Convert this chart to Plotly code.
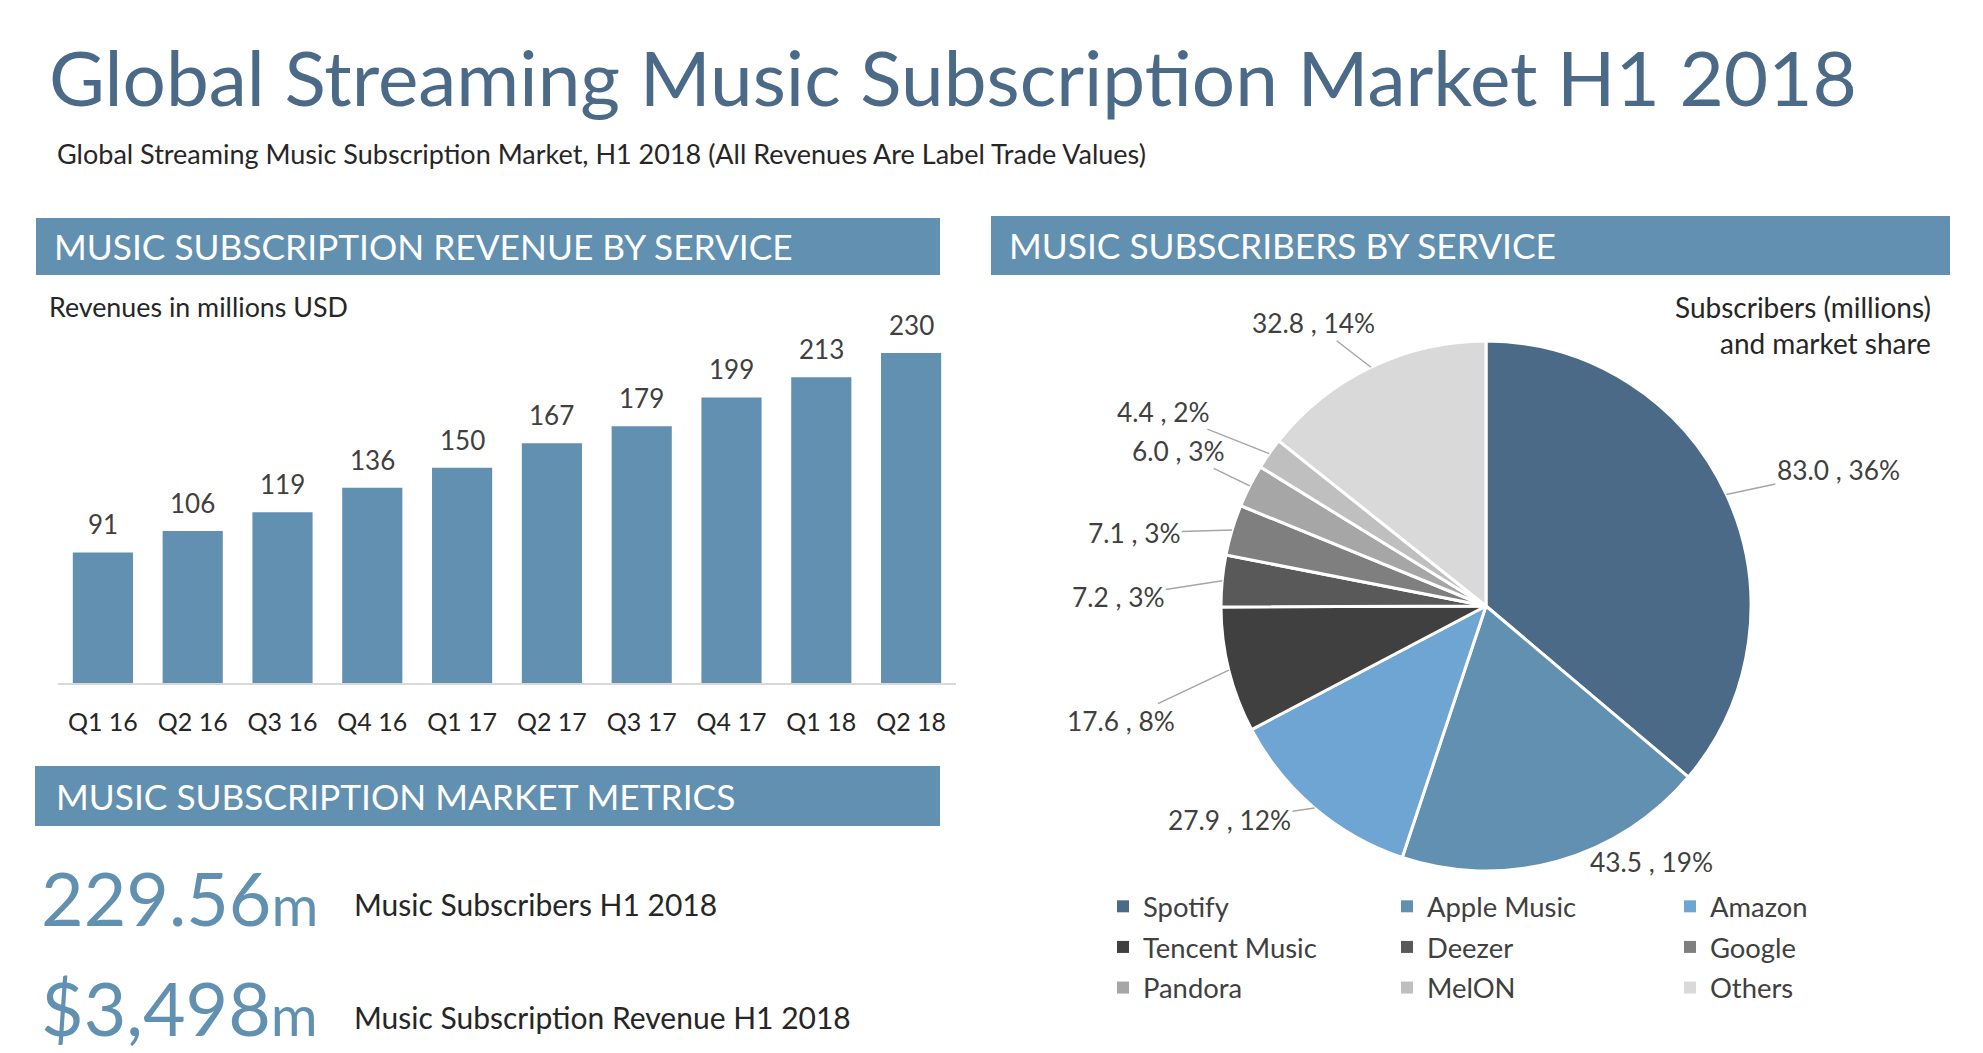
import math
import plotly.graph_objects as go

W, H = 1983, 1053

# ---------------- data ----------------
quarters = ["Q1 16", "Q2 16", "Q3 16", "Q4 16", "Q1 17", "Q2 17", "Q3 17", "Q4 17", "Q1 18", "Q2 18"]
revenue = [91, 106, 119, 136, 150, 167, 179, 199, 213, 230]

services = ["Spotify", "Apple Music", "Amazon", "Tencent Music", "Deezer",
            "Google", "Pandora", "MelON", "Others"]
subscribers = [83.0, 43.5, 27.9, 17.6, 7.2, 7.1, 6.0, 4.4, 32.8]

metric_values = ["229.56", "$3,498"]
metric_units = ["m", "m"]
metric_labels = ["Music Subscribers H1 2018", "Music Subscription Revenue H1 2018"]

title_text = "Global Streaming Music Subscription Market H1 2018"
subtitle_text = "Global Streaming Music Subscription Market, H1 2018 (All Revenues Are Label Trade Values)"
header_texts = ["MUSIC SUBSCRIPTION REVENUE BY SERVICE", "MUSIC SUBSCRIBERS BY SERVICE",
                "MUSIC SUBSCRIPTION MARKET METRICS"]

# ---------------- style ----------------
FONT = "Lato"
DARK = "#404040"
TEXT = "#262626"
TITLE_BLUE = "#4a6a88"
HEADER_BLUE = "#6290b0"
BAR_BLUE = "#6290b0"
slice_colors = ["#4a6a88", "#6290b0", "#6fa5d3", "#404040", "#595959",
                "#7f7f7f", "#a6a6a6", "#bfbfbf", "#d9d9d9"]
# pixel offsets (label centre relative to slice edge point)
label_offsets = [(112, -24), (94, 1), (-85, 12), (-108, 51), (-104, 16),
                 (-98, 3), (-72, -35), (-106, -42), (-57, -44)]
label_leader = [True, False, True, True, True, True, True, True, True]


def px(x):
    return x / W


def py(y):
    return 1 - y / H


# bar chart geometry (pixels)
BAR_LEFT, BAR_RIGHT = 58, 956
BAR_BASE = 683
Y_MAX = 250
PX_PER_UNIT = 1.435
BAR_TOP = BAR_BASE - Y_MAX * PX_PER_UNIT

# pie geometry
CX, CY, R = 1486, 606, 265

fig = go.Figure()

fig.add_trace(go.Bar(
    x=quarters, y=revenue, marker=dict(color=BAR_BLUE, line=dict(width=0)),
    hoverinfo="x+y", showlegend=False,
))

fig.add_trace(go.Pie(
    labels=services, values=subscribers, sort=False, direction="clockwise", rotation=0,
    marker=dict(colors=slice_colors, line=dict(color="white", width=3)),
    textinfo="none", showlegend=False,
    domain=dict(x=[px(CX - R), px(CX + R)], y=[py(CY + R), py(CY - R)]),
))

# legend entries (three columns)
legend_names = ["legend", "legend2", "legend3"]
for i, (s, c) in enumerate(zip(services, slice_colors)):
    fig.add_trace(go.Scatter(
        x=[None], y=[None], mode="markers",
        marker=dict(symbol="square", size=12, color=c),
        name=s, legend=legend_names[i % 3], legendgroup=s, showlegend=True,
        hoverinfo="skip",
    ))

legend_common = dict(
    orientation="v", font=dict(family=FONT, size=27.4, color=DARK),
    bgcolor="rgba(0,0,0,0)", borderwidth=0, tracegroupgap=2,
    xanchor="left", yanchor="top", itemclick=False, itemdoubleclick=False,
)
legend_x = [1103, 1387, 1670]
LEG_TOP = 882

annotations = []
shapes = []

# title / subtitle
annotations.append(dict(text=title_text, x=px(47), y=py(76), xref="paper", yref="paper",
                        xanchor="left", yanchor="middle", showarrow=False,
                        font=dict(family=FONT, size=76.5, color=TITLE_BLUE)))
annotations.append(dict(text=subtitle_text, x=px(55), y=py(154), xref="paper", yref="paper",
                        xanchor="left", yanchor="middle", showarrow=False,
                        font=dict(family=FONT, size=27, color=TEXT)))

# header bars
header_boxes = [(36, 218, 940, 275), (991, 216, 1950, 275), (35, 766, 940, 826)]
header_text_x = [52, 1007, 54]
for (x0, y0, x1, y1), t, tx in zip(header_boxes, header_texts, header_text_x):
    shapes.append(dict(type="rect", xref="paper", yref="paper",
                       x0=px(x0), x1=px(x1), y0=py(y1), y1=py(y0),
                       fillcolor=HEADER_BLUE, line=dict(width=0), layer="below"))
    annotations.append(dict(text=t, x=px(tx), y=py((y0 + y1) / 2), xref="paper", yref="paper",
                            xanchor="left", yanchor="middle", showarrow=False,
                            font=dict(family=FONT, size=35.3, color="white")))

# bar chart label
annotations.append(dict(text="Revenues in millions USD", x=px(47), y=py(307), xref="paper",
                        yref="paper", xanchor="left", yanchor="middle", showarrow=False,
                        font=dict(family=FONT, size=26.8, color=TEXT)))

# bar value labels
for q, v in zip(quarters, revenue):
    annotations.append(dict(text=str(v), x=q, y=v, xref="x", yref="y", xanchor="center",
                            yanchor="bottom", yshift=10, showarrow=False,
                            font=dict(family=FONT, size=26, color=DARK)))

# pie labels with leader lines
total = sum(subscribers)
cum = 0.0
for i, v in enumerate(subscribers):
    mid = (cum + v / 2) / total * 2 * math.pi
    cum += v
    tx = CX + R * math.sin(mid)
    ty = CY - R * math.cos(mid)
    pct = round(v / total * 100)
    lbl = f"{v:.1f} , {pct}%"
    ox, oy = label_offsets[i]
    if label_leader[i]:
        annotations.append(dict(text=lbl, x=px(tx), y=py(ty), xref="paper", yref="paper",
                                ax=ox, ay=oy, axref="pixel", ayref="pixel", showarrow=True,
                                arrowhead=0, arrowwidth=1.5, arrowcolor="#a6a6a6", standoff=0,
                                font=dict(family=FONT, size=26.3, color=DARK)))
    else:
        annotations.append(dict(text=lbl, x=px(tx + ox), y=py(ty + oy), xref="paper",
                                yref="paper", xanchor="center", yanchor="middle",
                                showarrow=False,
                                font=dict(family=FONT, size=26.3, color=DARK)))

annotations.append(dict(text="Subscribers (millions)<br>and market share", x=px(1933),
                        y=py(325), xref="paper", yref="paper", xanchor="right",
                        yanchor="middle", align="right", showarrow=False,
                        font=dict(family=FONT, size=28, color=TEXT)))

# metrics
metric_y = [897, 1007]
metric_label_y = [904, 1017]
for val, unit, lab, my, ly in zip(metric_values, metric_units, metric_labels, metric_y,
                                  metric_label_y):
    annotations.append(dict(text=f"{val}<span style='font-size:57px'>{unit}</span>",
                            x=px(320), y=py(my), xref="paper", yref="paper",
                            xanchor="right", yanchor="middle", showarrow=False,
                            font=dict(family=FONT, size=73.5, color=HEADER_BLUE)))
    annotations.append(dict(text=lab, x=px(352), y=py(ly), xref="paper", yref="paper",
                            xanchor="left", yanchor="middle", showarrow=False,
                            font=dict(family=FONT, size=30, color=TEXT)))

layout = dict(
    width=W, height=H, margin=dict(l=0, r=0, t=0, b=0, autoexpand=False),
    paper_bgcolor="white", plot_bgcolor="white",
    font=dict(family=FONT, color=DARK),
    bargap=0.33,
    xaxis=dict(domain=[px(BAR_LEFT), px(BAR_RIGHT)], type="category",
               showline=True, linecolor="#d9d9d9", linewidth=2, showgrid=False,
               zeroline=False, ticks="", ticklabelstandoff=16,
               tickfont=dict(family=FONT, size=25, color=TEXT), fixedrange=True),
    yaxis=dict(domain=[py(BAR_BASE), py(BAR_TOP)], range=[0, Y_MAX], visible=False,
               showgrid=False, zeroline=False, fixedrange=True),
    annotations=annotations, shapes=shapes,
    showlegend=True,
)
for name, lx in zip(legend_names, legend_x):
    layout[name] = dict(legend_common, x=px(lx), y=py(LEG_TOP))

fig.update_layout(**layout)
fig.write_html("out.html",
               config={"displayModeBar": False},
               post_script="document.body.style.margin='0px';"
                           "document.body.style.overflow='hidden';")
